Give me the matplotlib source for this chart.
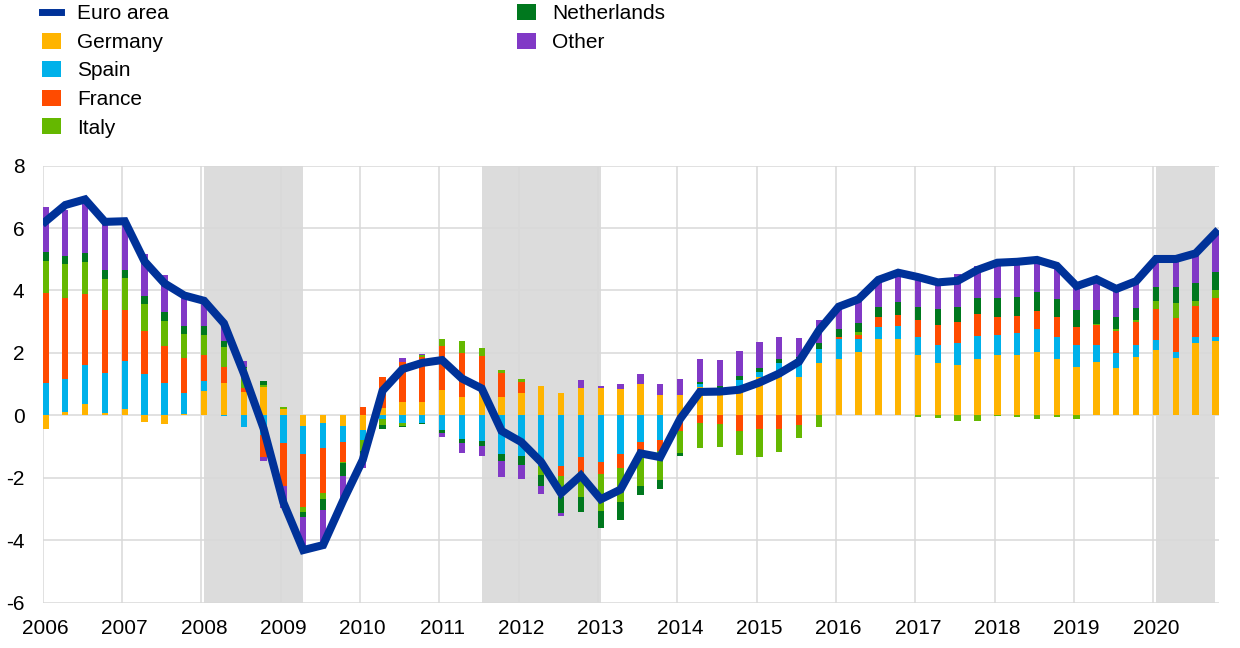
import numpy as np
import matplotlib
matplotlib.use("Agg")
import matplotlib.pyplot as plt
from matplotlib.patches import Patch
from matplotlib.lines import Line2D

plt.rcParams['font.family'] = ['Liberation Sans', 'DejaVu Sans']
plt.rcParams['axes.unicode_minus'] = False

# quarterly data, 2006Q1 - 2020Q4 (percentage points)
years = np.arange(2006, 2021)
quarters = np.repeat(years, 4) + np.tile([0, 0.25, 0.5, 0.75], len(years))

germany = [-0.45, 0.09, 0.36, 0.06, 0.21, -0.21, -0.27, 0.04,
           0.77, 1.05, 0.75, 0.90, 0.20, -0.34, -0.25, -0.33,
           -0.47, 0.22, 0.43, 0.43, 0.81, 0.58, 0.70, 0.58,
           0.70, 0.94, 0.70, 0.89, 0.89, 0.84, 1.01, 0.65,
           0.65, 0.90, 0.85, 0.92, 1.23, 1.24, 1.24, 1.67,
           1.79, 2.02, 2.44, 2.44, 1.93, 1.67, 1.61, 1.81,
           1.93, 1.93, 2.04, 1.79, 1.54, 1.70, 1.53, 1.88,
           2.09, 1.85, 2.33, 2.38]
spain = [1.05, 1.07, 1.25, 1.31, 1.53, 1.31, 1.05, 0.67,
         0.33, -0.03, -0.36, -0.63, -0.88, -0.90, -0.81, -0.51,
         -0.32, -0.12, -0.26, -0.24, -0.47, -0.76, -0.81, -1.24,
         -1.32, -1.61, -1.61, -1.35, -1.49, -1.25, -0.84, -0.80,
         0.00, 0.10, 0.00, 0.21, 0.15, 0.43, 0.53, 0.45,
         0.65, 0.42, 0.40, 0.43, 0.57, 0.58, 0.70, 0.74,
         0.64, 0.70, 0.73, 0.71, 0.70, 0.55, 0.46, 0.36,
         0.32, 0.19, 0.17, 0.14]
france = [2.86, 2.61, 2.28, 2.02, 1.65, 1.38, 1.18, 1.14,
          0.83, 0.51, 0.14, -0.72, -1.38, -1.69, -1.44, -0.67,
          0.26, 1.00, 1.27, 1.45, 1.42, 1.41, 1.21, 0.79,
          0.36, 0.00, -0.33, -0.46, -0.40, -0.45, -0.30, -0.33,
          -0.49, -0.25, -0.27, -0.49, -0.45, -0.45, -0.31, 0.00,
          0.06, 0.12, 0.30, 0.35, 0.56, 0.65, 0.67, 0.69,
          0.59, 0.56, 0.58, 0.64, 0.60, 0.65, 0.71, 0.76,
          0.99, 1.09, 1.00, 1.23]
italy = [1.03, 1.08, 1.02, 0.98, 1.00, 0.88, 0.79, 0.75,
         0.64, 0.64, 0.62, 0.08, 0.07, -0.16, -0.17, -0.03,
         -0.37, -0.18, -0.07, 0.04, 0.22, 0.40, 0.24, 0.08,
         0.10, -0.30, -0.67, -0.80, -1.17, -1.09, -1.12, -0.93,
         -0.73, -0.80, -0.75, -0.78, -0.88, -0.73, -0.43, -0.36,
         0.00, 0.11, 0.00, 0.00, -0.06, -0.10, -0.19, -0.18,
         -0.03, -0.05, -0.13, -0.07, -0.13, 0.02, 0.06, 0.06,
         0.26, 0.48, 0.16, 0.25]
netherlands = [0.28, 0.27, 0.30, 0.30, 0.28, 0.25, 0.28, 0.27,
               0.30, 0.19, 0.05, 0.11, 0.00, -0.18, -0.36, -0.39,
               -0.32, -0.15, -0.05, -0.04, -0.11, -0.12, -0.17, -0.21,
               -0.27, -0.35, -0.51, -0.49, -0.56, -0.57, -0.29, -0.30,
               -0.08, 0.07, 0.10, 0.14, 0.15, 0.15, 0.11, 0.19,
               0.28, 0.28, 0.34, 0.42, 0.42, 0.51, 0.50, 0.53,
               0.61, 0.61, 0.61, 0.59, 0.54, 0.47, 0.38, 0.39,
               0.46, 0.51, 0.57, 0.60]
other = [1.45, 1.46, 1.70, 1.53, 1.56, 1.35, 1.19, 0.95,
         0.77, 0.55, 0.18, -0.11, -0.72, -0.94, -1.07, -0.80,
         -0.22, 0.00, 0.13, 0.04, -0.13, -0.34, -0.32, -0.52,
         -0.46, -0.25, -0.11, 0.23, 0.05, 0.15, 0.31, 0.35,
         0.51, 0.72, 0.83, 0.79, 0.81, 0.68, 0.59, 0.75,
         0.68, 0.77, 0.80, 0.91, 0.95, 0.87, 1.05, 1.02,
         1.12, 1.12, 1.10, 1.00, 0.80, 0.89, 0.88, 0.78,
         0.86, 0.88, 0.93, 1.23]
euro_area = [6.21, 6.74, 6.92, 6.20, 6.22, 4.93, 4.23, 3.84,
             3.67, 2.95, 1.35, -0.42, -2.80, -4.32, -4.16, -2.75,
             -1.43, 0.79, 1.48, 1.68, 1.77, 1.18, 0.86, -0.50,
             -0.86, -1.50, -2.50, -1.93, -2.69, -2.38, -1.22, -1.34,
             -0.12, 0.75, 0.76, 0.82, 1.05, 1.34, 1.72, 2.72,
             3.48, 3.72, 4.34, 4.57, 4.43, 4.26, 4.31, 4.66,
             4.89, 4.92, 4.98, 4.79, 4.14, 4.36, 4.05, 4.30,
             5.01, 5.01, 5.19, 5.85]

series = [("Germany", germany, "#FFB400"),
          ("Spain", spain, "#00B1EA"),
          ("France", france, "#FF4B00"),
          ("Italy", italy, "#65B800"),
          ("Netherlands", netherlands, "#00781E"),
          ("Other", other, "#8139C6")]

# recession periods (first and last quarter)
recessions = [(2008.0, 2009.25), (2011.5, 2013.0), (2020.0, 2020.75)]

fig = plt.figure(figsize=(12.4, 6.48), dpi=100)
ax = fig.add_axes([0.0344, 0.0702, 0.9487, 0.6741])

off = 0.035  # bar centre sits just right of the year gridline
for start, end in recessions:
    ax.axvspan(start + off, end + off, color="#DCDCDC", zorder=0.2, lw=0)

pos_bottom = np.zeros(len(quarters))
neg_bottom = np.zeros(len(quarters))
for name, vals, col in series:
    vals = np.array(vals)
    bottom = np.where(vals >= 0, pos_bottom, neg_bottom)
    ax.bar(quarters + off, vals, width=0.08, bottom=bottom, color=col,
           zorder=2, linewidth=0)
    pos_bottom = pos_bottom + np.clip(vals, 0, None)
    neg_bottom = neg_bottom + np.clip(vals, None, 0)

ax.plot(quarters + off, euro_area, color="#003299", lw=5.8, zorder=3,
        solid_joinstyle="miter")

ax.set_xlim(2006, 2020.83)
ax.set_ylim(-6, 8)
ax.set_yticks(np.arange(-6, 9, 2))
ax.set_xticks(years)
ax.set_xticklabels([])
ax.set_xticks(years + off, [str(y) for y in years], minor=True)
ax.tick_params(axis="x", which="both", length=0, pad=12, labelsize=15)
ax.tick_params(axis="y", length=0, pad=13, labelsize=15)
ax.grid(True, which="major", color="#D9D9D9", lw=1.1)
ax.set_axisbelow(True)
for s in ax.spines.values():
    s.set_visible(False)

handles = [Line2D([], [], color="#003299", lw=5)]
handles += [Patch(facecolor=c, edgecolor="none") for _, _, c in series]
labels = ["Euro area"] + [n for n, _, _ in series]

leg_kw = dict(loc="upper left", frameon=False, fontsize=15, borderpad=0,
              borderaxespad=0, handlelength=0.9, handleheight=0.8,
              handletextpad=0.8, labelspacing=0.45)
fig.legend(handles[:5], labels[:5], bbox_to_anchor=(42 / 1240, 1 - 4 / 648), **leg_kw)
fig.legend(handles[5:], labels[5:], bbox_to_anchor=(517 / 1240, 1 - 4 / 648), **leg_kw)

fig.savefig("out.png", dpi=100)
